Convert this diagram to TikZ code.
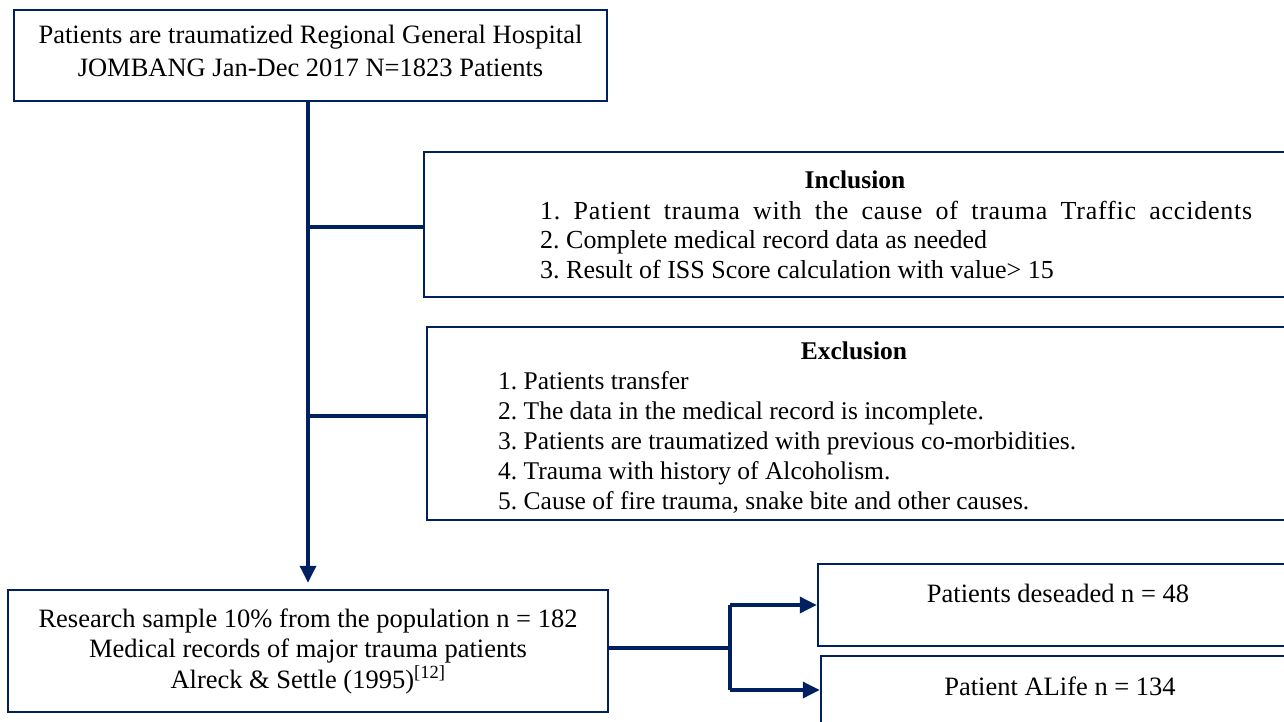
\documentclass[tikz,border=0pt]{standalone}
\usepackage{fontspec}
\setmainfont{Liberation Serif}
\usetikzlibrary{arrows.meta,calc}
\definecolor{navy}{RGB}{0,32,96}
\tikzset{
  box/.style={draw=navy,line width=2.5pt,rectangle,inner sep=0pt},
  conn/.style={draw=navy,line width=3.5pt},
  arr/.style={conn,-{Triangle[length=17pt,width=16pt]}},
  txt/.style={inner sep=0pt,font=\fontsize{26.5}{31}\selectfont},
}
\begin{document}
\frenchspacing
\begin{tikzpicture}[x=1pt,y=-1pt]
\useasboundingbox (0,0) rectangle (1284,722);
\clip (0,0) rectangle (1284,722);
\fill[white] (0,0) rectangle (1284,722);

% boxes
\node[box,minimum width=593pt,minimum height=91pt,text depth=10pt,align=center,
  font=\fontsize{26.5}{33}\selectfont] (top) at (310.5,55.5)
  {Patients are traumatized Regional General Hospital\\JOMBANG Jan-Dec 2017 N=1823 Patients};
\node[box,minimum width=876pt,minimum height=145pt] (incl) at (862,224.5) {};
\node[box,minimum width=873pt,minimum height=193pt] (excl) at (863.5,423.5) {};
\node[box,minimum width=600pt,minimum height=122pt,align=center,
  font=\fontsize{26.5}{30.5}\selectfont] (bot) at (308,651)
  {Research sample 10\% from the population n = 182\\Medical records of major trauma patients\\Alreck \& Settle (1995)\textsuperscript{[12]}};
\node[box,minimum width=482pt,minimum height=82pt] (des) at (1059,605) {};
\node[box,minimum width=479pt,minimum height=68pt] (alife) at (1060.5,690) {};

% texts
\node[txt,font=\fontsize{25.5}{31}\selectfont\bfseries] (inclt) at (855,180) {Inclusion};
\node[txt,anchor=west,align=left,font=\fontsize{26}{29.5}\selectfont] (incll) at (540,240)
  {\makebox[712pt][s]{\addfontfeature{LetterSpace=3}1. Patient trauma with the cause of trauma Traffic accidents}\\
   2. Complete medical record data as needed\\
   3. Result of ISS Score calculation with value> 15};
\node[txt,font=\fontsize{25.5}{31}\selectfont\bfseries] (exclt) at (854,351) {Exclusion};
\node[txt,anchor=west,align=left,font=\fontsize{25.5}{30}\selectfont] (excll) at (498,442)
  {1. Patients transfer\\
   2. The data in the medical record is incomplete.\\
   3. Patients are traumatized with previous co-morbidities.\\
   4. Trauma with history of Alcoholism.\\
   5. Cause of fire trauma, snake bite and other causes.};
\node[txt] (dest) at (1058,593) {Patients deseaded n = 48};
\node[txt] (alifet) at (1060,686) {Patient ALife n = 134};

% connectors
\draw[arr,shorten >=6pt] (top.south -| bot.north) -- (bot.north);
\draw[conn] (bot.north |- 0,227) -- (incl.west |- 0,227);
\draw[conn] (bot.north |- 0,416) -- (excl.west |- 0,416);
\coordinate (j) at (730,648);
\draw[conn] (bot.east |- j) -- (j);
\draw[conn] (j |- des.west) -- (j |- alife.west);
\draw[arr] (j |- des.west) -- (des.west);
\draw[arr] (j |- alife.west) -- (alife.west);
\end{tikzpicture}
\end{document}
